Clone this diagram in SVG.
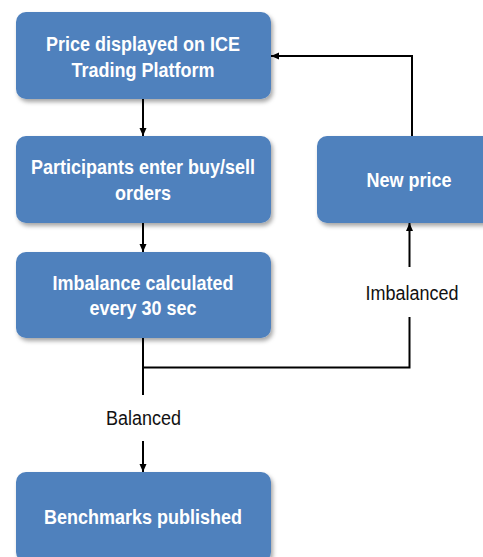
<svg xmlns="http://www.w3.org/2000/svg" width="483" height="557" viewBox="0 0 483 557">
  <defs>
    <filter id="sh" x="-10%" y="-10%" width="130%" height="140%">
      <feDropShadow dx="2" dy="3" stdDeviation="2" flood-color="#000" flood-opacity="0.35"/>
    </filter>
    <marker id="ah" markerUnits="userSpaceOnUse" markerWidth="8" markerHeight="8" refX="8" refY="3.5" orient="auto">
      <path d="M0,0 L8,3.5 L0,7 z" fill="#000"/>
    </marker>
  </defs>
  <style>
    .box { fill: #4F81BD; filter: url(#sh); }
    .bt { font-family: "Liberation Sans", Arial, sans-serif; font-weight: bold; font-size: 18px; fill: #FFFFFF; text-anchor: middle; }
    .lt { font-family: "Liberation Sans", Arial, sans-serif; font-size: 18px; fill: #111111; text-anchor: middle; }
    .ln { fill: none; stroke: #000; stroke-width: 2; }
    .ar { marker-end: url(#ah); }
  </style>
  <rect width="483" height="557" fill="#FFFFFF"/>

  <g id="connectors">
    <line class="ln ar" x1="143" y1="99" x2="143" y2="136"/>
    <line class="ln ar" x1="143" y1="223" x2="143" y2="252"/>
    <polyline class="ln" points="143,338 143,395"/>
    <polyline class="ln" points="143,367.5 409.5,367.5 409.5,317"/>
    <line class="ln ar" x1="409.5" y1="267" x2="409.5" y2="223"/>
    <polyline class="ln ar" points="412,136 412,56 271,56"/>
    <line class="ln ar" x1="143" y1="441" x2="143" y2="472"/>
    <text class="lt" transform="translate(412,300) scale(1,1.12)" x="0" y="0">Imbalanced</text>
    <text class="lt" transform="translate(143.5,425) scale(1,1.12)" x="0" y="0">Balanced</text>
  </g>

  <g id="node-price">
    <rect class="box" x="16" y="12" width="255" height="87" rx="10"/>
    <text class="bt" transform="translate(143,51) scale(1,1.11)" x="0" y="0">Price displayed on ICE</text>
    <text class="bt" transform="translate(143,77) scale(1,1.11)" x="0" y="0">Trading Platform</text>
  </g>

  <g id="node-participants">
    <rect class="box" x="16" y="136" width="255" height="87" rx="10"/>
    <text class="bt" transform="translate(143,174) scale(1,1.11)" x="0" y="0">Participants enter buy/sell</text>
    <text class="bt" transform="translate(143,200) scale(1,1.11)" x="0" y="0">orders</text>
  </g>

  <g id="node-imbalance">
    <rect class="box" x="16" y="252" width="255" height="86" rx="10"/>
    <text class="bt" transform="translate(143,290) scale(1,1.11)" x="0" y="0">Imbalance calculated</text>
    <text class="bt" transform="translate(143,315) scale(1,1.11)" x="0" y="0">every 30 sec</text>
  </g>

  <g id="node-newprice">
    <rect class="box" x="317" y="136" width="200" height="87" rx="10"/>
    <text class="bt" transform="translate(409,187) scale(1,1.11)" x="0" y="0">New price</text>
  </g>

  <g id="node-benchmarks">
    <rect class="box" x="16" y="472" width="255" height="90" rx="10"/>
    <text class="bt" transform="translate(143,524) scale(1,1.11)" x="0" y="0">Benchmarks published</text>
  </g>
</svg>
